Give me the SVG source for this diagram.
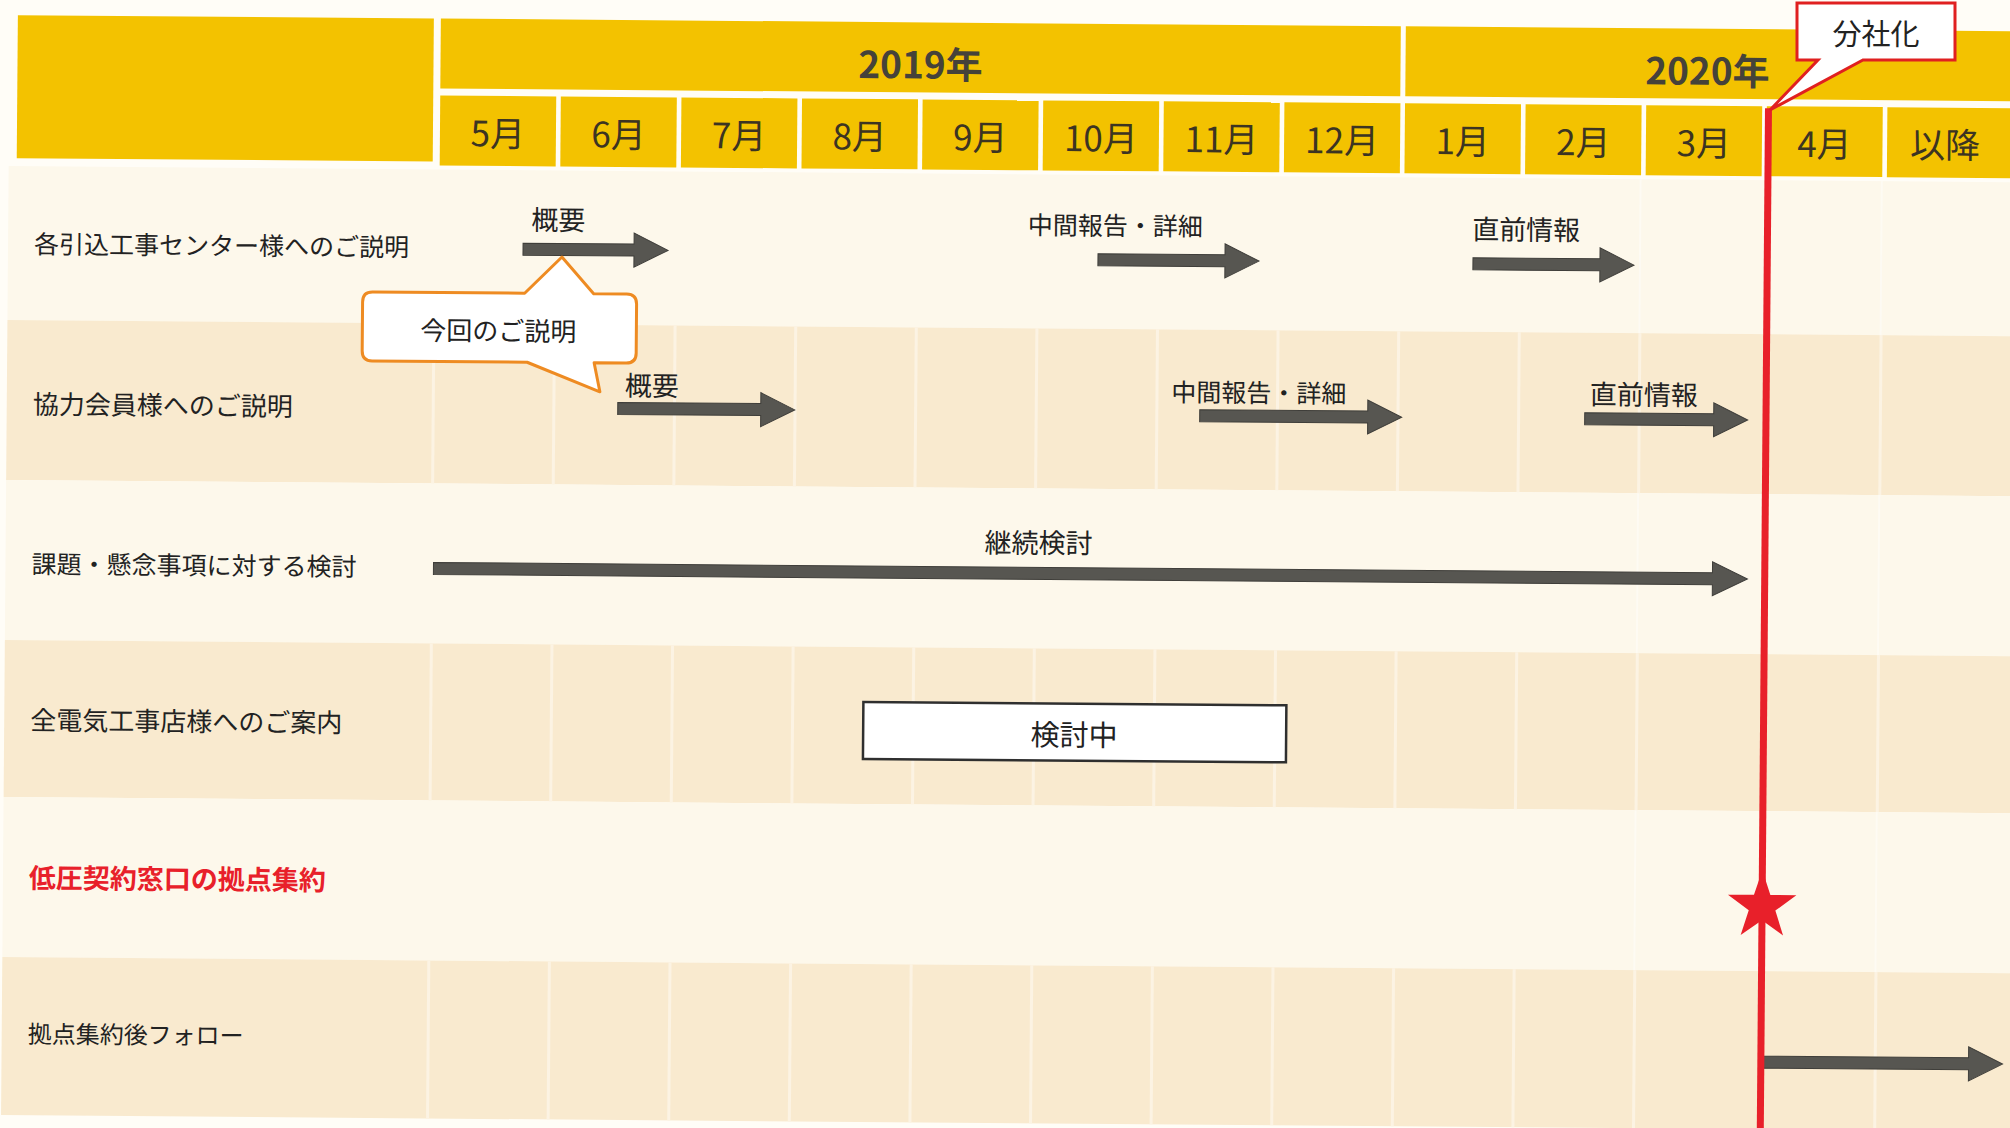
<svg xmlns="http://www.w3.org/2000/svg" width="2010" height="1128" viewBox="0 0 2010 1128">
<style>
.t{font-family:"Noto Sans CJK JP","Noto Sans",sans-serif;dominant-baseline:central}
.lbl{font-size:25px;fill:#222222}
.mon{font-size:35px;fill:#3c3422;text-anchor:middle}
.yr{font-size:37px;font-weight:bold;fill:#45423a;text-anchor:middle}
.note{font-size:26px;fill:#222222;text-anchor:middle}
.arr{fill:#575651;stroke:#3f3e3a;stroke-width:1}
.hdr{fill:#f3c200}
.light{fill:#fdf8eb}
.dark{fill:#f9eacf}
.sep{fill:#fcf3e3}
.fsep{fill:#ffffff;opacity:0.4}
</style>
<rect x="0" y="0" width="2010" height="1128" fill="#fffdf7"/>
<g transform="rotate(0.46)">
  <g id="rows">
    <rect class="light" x="10" y="166" width="2010" height="154"/>
    <rect class="dark" x="10" y="320" width="2010" height="160"/>
    <rect class="light" x="10" y="480" width="2010" height="160"/>
    <rect class="dark" x="10" y="640" width="2010" height="157"/>
    <rect class="light" x="10" y="797" width="2010" height="160"/>
    <rect class="dark" x="10" y="957" width="2010" height="158"/>
  </g>
  <g id="separators">
    <g class="sep">
      <rect x="435" y="320" width="3" height="160"/><rect x="555.6" y="320" width="3" height="160"/><rect x="676.2" y="320" width="3" height="160"/><rect x="796.8" y="320" width="3" height="160"/><rect x="917.4" y="320" width="3" height="160"/><rect x="1038" y="320" width="3" height="160"/><rect x="1158.6" y="320" width="3" height="160"/><rect x="1279.2" y="320" width="3" height="160"/><rect x="1399.8" y="320" width="3" height="160"/><rect x="1520.4" y="320" width="3" height="160"/><rect x="1641" y="320" width="3" height="160"/><rect x="1882.2" y="320" width="3" height="160"/>
      <rect x="435" y="640" width="3" height="157"/><rect x="555.6" y="640" width="3" height="157"/><rect x="676.2" y="640" width="3" height="157"/><rect x="796.8" y="640" width="3" height="157"/><rect x="917.4" y="640" width="3" height="157"/><rect x="1038" y="640" width="3" height="157"/><rect x="1158.6" y="640" width="3" height="157"/><rect x="1279.2" y="640" width="3" height="157"/><rect x="1399.8" y="640" width="3" height="157"/><rect x="1520.4" y="640" width="3" height="157"/><rect x="1641" y="640" width="3" height="157"/><rect x="1882.2" y="640" width="3" height="157"/>
      <rect x="435" y="957" width="3" height="158"/><rect x="555.6" y="957" width="3" height="158"/><rect x="676.2" y="957" width="3" height="158"/><rect x="796.8" y="957" width="3" height="158"/><rect x="917.4" y="957" width="3" height="158"/><rect x="1038" y="957" width="3" height="158"/><rect x="1158.6" y="957" width="3" height="158"/><rect x="1279.2" y="957" width="3" height="158"/><rect x="1399.8" y="957" width="3" height="158"/><rect x="1520.4" y="957" width="3" height="158"/><rect x="1641" y="957" width="3" height="158"/><rect x="1882.2" y="957" width="3" height="158"/>
    </g>
    <g class="fsep">
      <rect x="1641" y="797" width="2" height="160"/><rect x="1882.2" y="797" width="2" height="160"/>
      <rect x="1641" y="480" width="2" height="160"/><rect x="1882.2" y="480" width="2" height="160"/>
      <rect x="1641" y="166" width="2" height="154"/><rect x="1882.2" y="166" width="2" height="154"/>
    </g>
  </g>
  <g id="header">
    <rect class="hdr" x="18" y="15" width="416" height="143"/>
    <g id="year2019"><rect class="hdr" x="441" y="15" width="960" height="70"/><text class="t yr" x="921" y="55">2019年</text></g>
    <g id="year2020"><rect class="hdr" x="1406" y="15" width="620" height="70"/><text class="t yr" x="1708" y="55">2020年</text></g>
    <g id="months">
      <rect class="hdr" x="441" y="92" width="116" height="70"/><text class="t mon" x="499" y="127">5月</text>
      <rect class="hdr" x="561.6" y="92" width="116" height="70"/><text class="t mon" x="619.6" y="127">6月</text>
      <rect class="hdr" x="682.2" y="92" width="116" height="70"/><text class="t mon" x="740.2" y="127">7月</text>
      <rect class="hdr" x="802.8" y="92" width="116" height="70"/><text class="t mon" x="860.8" y="127">8月</text>
      <rect class="hdr" x="923.4" y="92" width="116" height="70"/><text class="t mon" x="981.4" y="127">9月</text>
      <rect class="hdr" x="1044" y="92" width="116" height="70"/><text class="t mon" x="1102" y="127">10月</text>
      <rect class="hdr" x="1164.6" y="92" width="116" height="70"/><text class="t mon" x="1222.6" y="127">11月</text>
      <rect class="hdr" x="1285.2" y="92" width="116" height="70"/><text class="t mon" x="1343.2" y="127">12月</text>
      <rect class="hdr" x="1405.8" y="92" width="116" height="70"/><text class="t mon" x="1463.8" y="127">1月</text>
      <rect class="hdr" x="1526.4" y="92" width="116" height="70"/><text class="t mon" x="1584.4" y="127">2月</text>
      <rect class="hdr" x="1647" y="92" width="116" height="70"/><text class="t mon" x="1705" y="127">3月</text>
      <rect class="hdr" x="1767.6" y="92" width="116" height="70"/><text class="t mon" x="1825.6" y="127">4月</text>
      <rect class="hdr" x="1888.2" y="92" width="130" height="70"/><text class="t mon" x="1946.2" y="127">以降</text>
    </g>
  </g>
  <g id="row-labels">
    <text id="lbl1" class="t lbl" x="36" y="242">各引込工事センター様へのご説明</text>
    <text id="lbl2" class="t lbl" x="36" y="402" style="font-size:26px">協力会員様へのご説明</text>
    <text id="lbl3" class="t lbl" x="36" y="562">課題・懸念事項に対する検討</text>
    <text id="lbl4" class="t lbl" x="36" y="718" style="font-size:26px">全電気工事店様へのご案内</text>
    <text id="lbl5" class="t lbl" x="36" y="876" style="font-size:27px;font-weight:bold;fill:#e8202a">低圧契約窓口の拠点集約</text>
    <text id="lbl6" class="t lbl" x="36" y="1032" style="font-size:24px">拠点集約後フォロー</text>
  </g>
  <g id="connectors">
    <polygon class="arr" points="525,239 636,239 636,228 670,245 636,262 636,251 525,251"/>
    <polygon class="arr" points="1100,245 1227,245 1227,234 1261,251 1227,268 1227,257 1100,257"/>
    <polygon class="arr" points="1475,246 1602,246 1602,235 1636,252 1602,269 1602,258 1475,258"/>
    <polygon class="arr" points="621,397.5 764,397.5 764,386.5 798,403.5 764,420.5 764,409.5 621,409.5"/>
    <polygon class="arr" points="1203,400 1371,400 1371,389 1405,406 1371,423 1371,412 1203,412"/>
    <polygon class="arr" points="1588,400 1717,400 1717,389 1751,406 1717,423 1717,412 1588,412"/>
    <polygon class="arr" points="438,559 1717,559 1717,548 1752,565 1717,582 1717,571 438,571"/>
    <polygon class="arr" points="1771,1042 1977,1042 1977,1031 2011,1048 1977,1065 1977,1054 1771,1054"/>
  </g>
  <g id="arrow-labels">
    <text class="t note" x="560" y="214" style="font-size:27px">概要</text>
    <text class="t note" x="1117" y="215" style="font-size:25px">中間報告・詳細</text>
    <text class="t note" x="1528" y="216" style="font-size:27px">直前情報</text>
    <text class="t note" x="655" y="379" style="font-size:27px">概要</text>
    <text class="t note" x="1262" y="381" style="font-size:25px">中間報告・詳細</text>
    <text class="t note" x="1647" y="380" style="font-size:27px">直前情報</text>
    <text class="t note" x="1043" y="533" style="font-size:27px">継続検討</text>
  </g>
  <g id="box-kentou">
    <rect x="869" y="695" width="423" height="57" fill="#ffffff" stroke="#2f2f2f" stroke-width="2.5"/>
    <text class="t note" x="1080" y="724" style="font-size:29px">検討中</text>
  </g>
  <g id="callout-konkai">
    <path d="M375,289 H527 L564,252.5 L596,289 H629 Q639,289 639,299 V348 Q639,358 629,358 H597 L603,387 L530,358 H375 Q365,358 365,348 V299 Q365,289 375,289 Z" fill="#ffffff" stroke="#ee8b22" stroke-width="3" stroke-linejoin="round"/>
    <text class="t note" x="501" y="325">今回のご説明</text>
  </g>
  <g id="milestone">
    <rect x="1765.8" y="94" width="7" height="1060" fill="#e8202a"/>
    <polygon transform="translate(1769.3,892)" fill="#e8202a" points="0,-36 8.2,-11.3 34.2,-11.1 13.3,4.3 21.2,29.1 0,14 -21.2,29.1 -13.3,4.3 -34.2,-11.1 -8.2,-11.3"/>
  </g>
</g>
<g id="callout-bunsha">
  <path d="M1797,3 H1955 V60 H1863 L1770,110 L1818,60 H1797 Z" fill="#ffffff" stroke="#e02020" stroke-width="3" stroke-linejoin="miter"/>
  <text class="t note" x="1876" y="32" style="font-size:29px">分社化</text>
</g>
</svg>
